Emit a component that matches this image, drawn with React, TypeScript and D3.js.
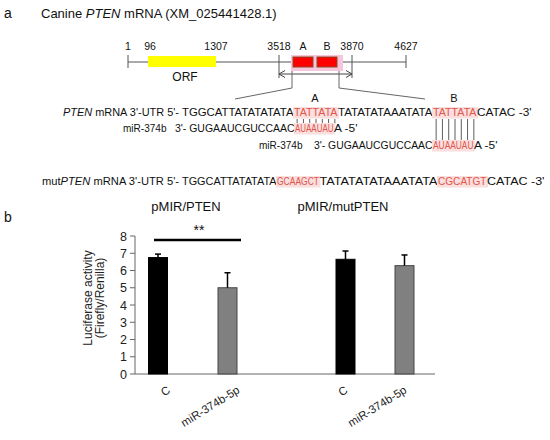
import React from 'react';
import * as d3 from 'd3';

// ---------- data ----------
const geneTicks = [1, 96, 1307, 3518, 3870, 4627];
const orfRange = [96, 1307];
const utrRange = [3518, 3870];

const seqWild = ['TGGCATTATATATATA', 'TATTATA', 'TATATATAAATATA', 'TATTATA', 'CATAC -3\''];
const seqMut = ['TGGCATTATATATA', 'GCAAGCT', 'TATATATATAAATATA', 'CGCATGT', 'CATAC -3\''];
const mirSeq = ['3\'- GUGAAUCGUCCAAC', 'AUAAUAU', 'A -5\''];
const siteLabels = ['A', 'B'];

const panels = ['pMIR/PTEN', 'pMIR/mutPTEN'];
const conditions = ['C', 'miR-374b-5p'];
const meanPTEN = [6.75, 5.0];
const errPTEN = [0.2, 0.87];
const meanMut = [6.65, 6.28];
const errMut = [0.48, 0.62];
const yTicks = [0, 1, 2, 3, 4, 5, 6, 7, 8];

// ---------- layout ----------
const FONT = 'Arial, "Liberation Sans", sans-serif';
const RED = '#e0564a';
const PINK = '#fbdede';

const geneX = d3.scaleLinear().domain(geneTicks).range([128, 148, 216, 279, 352, 406]);

// sequence segment boundaries (x positions)
const wildX = [182, 294, 338, 433, 477, 532];
const mutX = [182, 277, 319.5, 438, 487, 545];
const mirAX = [175, 295, 334, 358];
const mirBX = [314, 433, 474, 498];

const Y_WILD = 116;
const Y_MIRA = 132;
const Y_MIRB = 149;
const Y_MUT = 185;

const yScale = d3.scaleLinear().domain([0, 8]).range([374, 236]);
const panelRanges: [number, number][] = [[123.25, 262.25], [316, 434]];
const labelDx = [13, 3];
const barW = 19;

function Seg({ text, x0, x1, y, color = '#111', bg = false, size = 10.5 }: any) {
  return (
    <g>
      {bg && <rect x={x0 - 1} y={y - 9} width={x1 - x0 + 2} height={11.5} fill={PINK} />}
      <text x={x0} y={y} textLength={x1 - x0 - 0.5} lengthAdjust="spacingAndGlyphs" fontSize={size} fill={color} fontFamily={FONT}>
        {text}
      </text>
    </g>
  );
}

function SeqLine({ segs, xs, y, redIdx }: { segs: string[]; xs: number[]; y: number; redIdx: number[] }) {
  return (
    <g>
      {segs.map((s, i) => (
        <Seg key={i} text={s} x0={xs[i]} x1={xs[i + 1]} y={y} color={redIdx.includes(i) ? RED : '#111'} bg={redIdx.includes(i)} />
      ))}
    </g>
  );
}

function PairLines({ x0, x1, n, y0, y1 }: any) {
  const step = (x1 - x0) / n;
  return (
    <g>
      {d3.range(n).map((i) => (
        <line key={i} x1={x0 + step * (i + 0.5)} x2={x0 + step * (i + 0.5)} y1={y0} y2={y1} stroke="#333" strokeWidth={0.8} />
      ))}
    </g>
  );
}

export default function App() {
  const bandScales = panelRanges.map((r) => d3.scaleBand<string>().domain(conditions).range(r));
  const means = [meanPTEN, meanMut];
  const errs = [errPTEN, errMut];
  const titleX = [186, 343];

  const boxA = [293, 313];
  const boxB = [317, 337];

  return (
    <svg width={550} height={440} style={{ position: 'absolute', left: 0, top: 0, background: '#fff' }} fontFamily={FONT}>
      {/* ---------- panel a ---------- */}
      <text x={4} y={18} fontSize={14} fill="#111">a</text>
      <text x={41} y={18} fontSize={13} fill="#111">
        Canine <tspan fontStyle="italic">PTEN</tspan> mRNA (XM_025441428.1)
      </text>

      {/* gene diagram */}
      <line x1={geneX(1)} x2={geneX(4627)} y1={62} y2={62} stroke="#555" strokeWidth={1} />
      {geneTicks.filter((t) => t !== 96 && t !== 1307).map((t) => (
        <line key={t} x1={geneX(t)} x2={geneX(t)} y1={55} y2={t === 3518 || t === 3870 ? 78 : 68} stroke="#555" strokeWidth={1} />
      ))}
      {geneTicks.map((t) => (
        <text key={t} x={geneX(t) + (t === 96 ? 2 : 0)} y={50} fontSize={10.5} textAnchor="middle" fill="#111">{t}</text>
      ))}
      <rect x={geneX(orfRange[0])} y={56} width={geneX(orfRange[1]) - geneX(orfRange[0])} height={11} fill="#ffff00" />
      <text x={185} y={81} fontSize={12} textAnchor="middle" fill="#111">ORF</text>

      <rect x={291} y={55} width={52} height={16} fill="#f7c6dc" />
      <rect x={boxA[0]} y={57} width={boxA[1] - boxA[0]} height={10} fill="#ff0000" stroke="#8b4a2b" strokeWidth={1} />
      <rect x={boxB[0]} y={57} width={boxB[1] - boxB[0]} height={10} fill="#ff0000" stroke="#8b4a2b" strokeWidth={1} />
      <text x={303} y={50} fontSize={10.5} textAnchor="middle" fill="#111">{siteLabels[0]}</text>
      <text x={327} y={50} fontSize={10.5} textAnchor="middle" fill="#111">{siteLabels[1]}</text>

      {/* double arrow */}
      <line x1={geneX(utrRange[0])} x2={geneX(utrRange[1])} y1={74} y2={74} stroke="#444" strokeWidth={1} />
      <path d={`M${geneX(utrRange[0]) + 6},70.5 L${geneX(utrRange[0])},74 L${geneX(utrRange[0]) + 6},77.5`} fill="none" stroke="#444" />
      <path d={`M${geneX(utrRange[1]) - 6},70.5 L${geneX(utrRange[1])},74 L${geneX(utrRange[1]) - 6},77.5`} fill="none" stroke="#444" />

      {/* zoom lines */}
      <polyline points="292,71 292,88 235,99" fill="none" stroke="#666" strokeWidth={1} />
      <polyline points="339,71 339,88 425,99" fill="none" stroke="#666" strokeWidth={1} />

      {/* site labels */}
      <text x={315} y={102} fontSize={11} textAnchor="middle" fill="#111">{siteLabels[0]}</text>
      <text x={454} y={102} fontSize={11} textAnchor="middle" fill="#111">{siteLabels[1]}</text>

      {/* wild-type line */}
      <text x={63} y={Y_WILD} fontSize={10.5} fill="#111" textLength={182 - 63 - 3} lengthAdjust="spacingAndGlyphs">
        <tspan fontStyle="italic">PTEN</tspan> mRNA 3'-UTR 5'-
      </text>
      <SeqLine segs={seqWild} xs={wildX} y={Y_WILD} redIdx={[1, 3]} />

      <PairLines x0={wildX[1]} x1={wildX[2]} n={7} y0={Y_WILD + 3} y1={Y_MIRA - 8.5} />
      <PairLines x0={wildX[3]} x1={wildX[4]} n={7} y0={Y_WILD + 3} y1={Y_MIRB - 8.5} />

      {/* miR line A */}
      <Seg text="miR-374b" x0={123} x1={167} y={Y_MIRA} />
      <SeqLine segs={mirSeq} xs={mirAX} y={Y_MIRA} redIdx={[1]} />
      {/* miR line B */}
      <Seg text="miR-374b" x0={259} x1={303} y={Y_MIRB} />
      <SeqLine segs={mirSeq} xs={mirBX} y={Y_MIRB} redIdx={[1]} />

      {/* mutant line */}
      <text x={42} y={Y_MUT} fontSize={10.5} fill="#111" textLength={182 - 42 - 3} lengthAdjust="spacingAndGlyphs">
        mut<tspan fontStyle="italic">PTEN</tspan> mRNA 3'-UTR 5'-
      </text>
      <SeqLine segs={seqMut} xs={mutX} y={Y_MUT} redIdx={[1, 3]} />

      {/* ---------- panel b ---------- */}
      <text x={4} y={222} fontSize={14} fill="#111">b</text>
      {panels.map((p, i) => (
        <text key={p} x={titleX[i]} y={211} fontSize={13} textAnchor="middle" fill="#111">{p}</text>
      ))}

      {/* y axis */}
      <line x1={135} x2={135} y1={yScale(8)} y2={yScale(0)} stroke="#666" strokeWidth={1} />
      {yTicks.map((t) => (
        <g key={t}>
          <line x1={130} x2={135} y1={yScale(t)} y2={yScale(t)} stroke="#666" />
          <text x={127} y={yScale(t) + 4.5} fontSize={12.5} textAnchor="end" fill="#222">{t}</text>
        </g>
      ))}
      <line x1={135} x2={435} y1={yScale(0)} y2={yScale(0)} stroke="#666" strokeWidth={1} />

      <g transform="translate(92,298) rotate(-90)">
        <text x={0} y={0} fontSize={12} textAnchor="middle" fill="#222">Luciferase activity</text>
        <text x={0} y={12} fontSize={12} textAnchor="middle" fill="#222">(Firefly/Renilla)</text>
      </g>

      {/* bars */}
      {panels.map((p, pi) =>
        conditions.map((c, ci) => {
          const cx = (bandScales[pi](c) as number) + bandScales[pi].bandwidth() / 2;
          const v = means[pi][ci];
          const e = errs[pi][ci];
          return (
            <g key={p + c}>
              <rect x={cx - barW / 2} y={yScale(v)} width={barW} height={yScale(0) - yScale(v)} fill={ci === 0 ? '#000' : '#808080'} stroke={ci === 0 ? '#000' : '#444'} strokeWidth={1} />
              <line x1={cx} x2={cx} y1={yScale(v)} y2={yScale(v + e)} stroke="#000" strokeWidth={1.5} />
              <line x1={cx - 3} x2={cx + 3} y1={yScale(v + e)} y2={yScale(v + e)} stroke="#000" strokeWidth={1.5} />
              <text transform={`translate(${cx + labelDx[pi]},${392}) rotate(-32)`} fontSize={11.5} textAnchor="end" fill="#222">{c}</text>
            </g>
          );
        })
      )}

      {/* significance */}
      <line x1={154} x2={241} y1={240} y2={240} stroke="#000" strokeWidth={2.5} />
      <text x={199} y={235} fontSize={14} textAnchor="middle" fill="#111">**</text>
    </svg>
  );
}
